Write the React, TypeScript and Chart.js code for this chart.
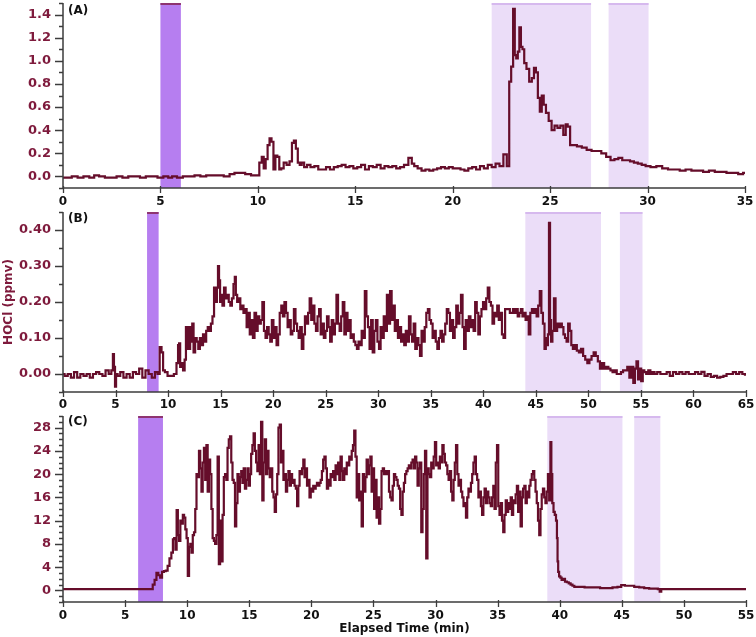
import React, { useEffect, useRef } from "react";
import { Chart, registerables } from "chart.js";

Chart.register(...registerables);

// ---------------- DATA ----------------
// Panel (A)
const timeA = [
  0, 0.3, 0.6, 0.9, 1.2, 1.5, 1.7, 2.0, 2.3, 2.6,
  2.9, 3.2, 3.5, 3.8, 4.1, 4.4, 4.7, 5.0, 5.3, 5.5,
  5.7, 6.0, 6.3, 6.6, 6.9, 7.2, 7.5, 7.8, 8.1, 8.4,
  8.7, 8.9, 9.2, 9.5, 9.8, 10.0, 10.15, 10.25, 10.35, 10.45,
  10.55, 10.65, 10.75, 10.85, 10.95, 11.05, 11.15, 11.25, 11.4, 11.55,
  11.7, 11.8, 11.9, 12.0, 12.1, 12.2, 12.3, 12.45, 12.6, 12.8,
  13.0, 13.2, 13.4, 13.6, 13.8, 14.0, 14.2, 14.4, 14.6, 14.8,
  15.0, 15.2, 15.4, 15.6, 15.8, 16.0, 16.2, 16.4, 16.6, 16.8,
  17.0, 17.2, 17.4, 17.6, 17.85, 17.95, 18.1, 18.3, 18.5, 18.7,
  18.9, 19.1, 19.3, 19.5, 19.7, 19.9, 20.1, 20.3, 20.5, 20.7,
  20.9, 21.1, 21.3, 21.5, 21.7, 21.9, 22.1, 22.3, 22.5, 22.7,
  22.85, 22.95, 23.05, 23.15, 23.22, 23.3, 23.38, 23.46, 23.54, 23.62,
  23.72, 23.85, 24.0, 24.12, 24.22, 24.32, 24.42, 24.52, 24.62, 24.72,
  24.85, 25.0, 25.15, 25.3, 25.45, 25.6, 25.75, 25.85, 25.95, 26.1,
  26.25, 26.5, 26.75, 27.0, 27.25, 27.5, 27.75, 28.0, 28.2, 28.4,
  28.6, 28.8, 29.0, 29.2, 29.4, 29.6, 29.8, 30.0, 30.3, 30.6,
  30.9, 31.2, 31.5, 31.8, 32.1, 32.4, 32.7, 33.0, 33.3, 33.6,
  33.9, 34.2, 34.5, 34.8, 35.0,
];
const hoclA = [
  -0.01, -0.01, 0.0, -0.01, 0.0, -0.01, 0.01, 0.0, -0.01, -0.01,
  0.0, -0.01, 0.0, 0.0, -0.01, 0.0, 0.0, -0.01, 0.0, -0.01,
  0.0, -0.01, 0.0, 0.0, 0.01, 0.0, 0.01, 0.01, 0.01, 0.0,
  0.02, 0.03, 0.03, 0.02, 0.01, 0.01, 0.12, 0.17, 0.07, 0.15,
  0.27, 0.33, 0.30, 0.06, 0.18, 0.17, 0.06, 0.07, 0.12, 0.10,
  0.13, 0.29, 0.31, 0.24, 0.12, 0.10, 0.12, 0.08, 0.10, 0.08,
  0.09, 0.06, 0.06, 0.08, 0.06, 0.08, 0.09, 0.10, 0.08, 0.09,
  0.07, 0.08, 0.10, 0.06, 0.09, 0.08, 0.10, 0.07, 0.09, 0.08,
  0.09, 0.07, 0.08, 0.10, 0.16, 0.11, 0.09, 0.07, 0.05, 0.06,
  0.05, 0.06, 0.07, 0.08, 0.07, 0.08, 0.07, 0.07, 0.06, 0.05,
  0.07, 0.08, 0.06, 0.09, 0.07, 0.10, 0.08, 0.11, 0.09, 0.19,
  0.09, 0.82, 0.95, 1.45, 1.05, 1.02, 1.08, 1.29, 1.12, 1.10,
  0.98, 0.93, 0.82, 0.85, 0.94, 0.90, 0.68, 0.56, 0.70, 0.62,
  0.55, 0.48, 0.40, 0.44, 0.42, 0.44, 0.36, 0.45, 0.43, 0.27,
  0.27, 0.26, 0.25, 0.23, 0.22, 0.22, 0.20, 0.17, 0.14, 0.15,
  0.16, 0.14, 0.14, 0.13, 0.12, 0.11, 0.10, 0.09, 0.08, 0.09,
  0.07, 0.06, 0.06, 0.05, 0.06, 0.05, 0.05, 0.04, 0.05, 0.04,
  0.04, 0.03, 0.03, 0.02, 0.03,
];

// Panel (B)
const timeB = [
  0, 0.3, 0.6, 0.9, 1.2, 1.5, 1.8, 2.1, 2.4, 2.7, 3.0, 3.3, 3.6, 3.9, 4.2, 4.5,
  4.7, 4.8, 4.9, 5.0, 5.1, 5.3,
  5.6, 5.9, 6.2, 6.5, 6.8, 7.1, 7.4, 7.7, 8.0, 8.3, 8.6, 8.9,
  9.1, 9.3, 9.45, 9.6, 9.8, 10.1, 10.4, 10.7,
  10.9, 11.0, 11.1, 11.2, 11.35, 11.5, 11.65, 11.75, 11.85, 11.95,
  12.05, 12.15, 12.25, 12.35, 12.5, 12.65, 12.8, 12.95, 13.1, 13.25,
  13.4, 13.55, 13.7, 13.85, 14.0, 14.15, 14.3, 14.45, 14.6, 14.7,
  14.8, 14.9, 15.0, 15.1, 15.25, 15.4, 15.55, 15.7, 15.85, 16.0,
  16.15, 16.3, 16.4, 16.5, 16.65, 16.8, 16.95, 17.1, 17.25, 17.4,
  17.55, 17.7, 17.85, 18.0, 18.15, 18.3, 18.45, 18.6, 18.75, 18.9,
  19.05, 19.2, 19.35, 19.5, 19.65, 19.8, 19.95, 20.1, 20.25, 20.4,
  20.55, 20.7, 20.85, 21.0, 21.15, 21.3, 21.45, 21.6, 21.75, 21.9,
  22.05, 22.2, 22.35, 22.5, 22.65, 22.8, 22.95, 23.1, 23.25, 23.4,
  23.55, 23.7, 23.85, 24.0, 24.15, 24.3, 24.45, 24.6, 24.75, 24.9,
  25.05, 25.2, 25.35, 25.5, 25.65, 25.8, 25.95, 26.1, 26.25, 26.4,
  26.55, 26.7, 26.85, 27.0, 27.15, 27.3, 27.45, 27.6, 27.75, 27.9,
  28.05, 28.2, 28.35, 28.5, 28.65, 28.8, 28.95, 29.1, 29.25, 29.4,
  29.55, 29.7, 29.85, 30.0, 30.15, 30.3, 30.45, 30.6, 30.75, 30.9,
  31.05, 31.2, 31.35, 31.5, 31.65, 31.8, 31.95, 32.1, 32.25, 32.4,
  32.55, 32.7, 32.85, 33.0, 33.15, 33.3, 33.45, 33.6, 33.75, 33.9,
  34.05, 34.2, 34.35, 34.5, 34.65, 34.8, 34.95, 35.1, 35.25, 35.4,
  35.55, 35.7, 35.85, 36.0, 36.15, 36.3, 36.45, 36.6, 36.75, 36.9,
  37.05, 37.2, 37.35, 37.5, 37.65, 37.8, 37.95, 38.1, 38.25, 38.4,
  38.55, 38.7, 38.85, 39.0, 39.15, 39.3, 39.45, 39.6, 39.75, 39.9,
  40.05, 40.2, 40.35, 40.5, 40.65, 40.8, 40.95, 41.1, 41.25, 41.4,
  41.55, 41.7, 41.85, 42.0, 42.15, 42.3, 42.45, 42.6, 42.75, 42.9,
  43.05, 43.2, 43.35, 43.5, 43.65, 43.8, 43.95, 44.1, 44.25, 44.4,
  44.55, 44.7, 44.85, 45.0, 45.15, 45.3, 45.45, 45.6, 45.75, 45.9,
  46.0, 46.1, 46.2, 46.3, 46.4, 46.5, 46.65, 46.8, 46.95, 47.1,
  47.25, 47.4, 47.55, 47.7, 47.85, 48.0, 48.15, 48.3, 48.45, 48.6,
  48.8, 49.0, 49.2, 49.4, 49.6, 49.8, 50.0, 50.2, 50.4, 50.6,
  50.8, 51.0, 51.2, 51.4, 51.6, 51.8, 52.0, 52.2, 52.4, 52.6,
  52.8, 53.0, 53.2, 53.4, 53.6, 53.8, 54.0, 54.2, 54.35, 54.5,
  54.65, 54.8, 54.95, 55.1, 55.25, 55.4, 55.6, 55.8, 56.0, 56.2,
  56.4, 56.7, 57.0, 57.3, 57.6, 57.9, 58.2, 58.5, 58.8, 59.1,
  59.4, 59.7, 60.0, 60.3, 60.6, 60.9, 61.2, 61.5, 61.8, 62.1,
  62.4, 62.7, 63.0, 63.3, 63.6, 63.9, 64.2, 64.5, 64.8, 65.0,
];
const hoclB = [
  0.0, -0.005, 0.0, -0.01, 0.005, -0.01, 0.0, -0.005, 0.0, -0.01, 0.0, 0.005, 0.0, -0.005, 0.01, 0.0,
  0.01, 0.055, 0.02, -0.035, 0.0, -0.005,
  0.005, -0.01, 0.0, -0.01, 0.005, 0.0, 0.015, -0.01, 0.01, 0.0, -0.01, 0.005,
  0.0, 0.075, 0.06, 0.01, 0.005, -0.005, -0.005, 0.0,
  0.03, 0.08, 0.085, 0.02, 0.03, 0.01, 0.04, 0.13, 0.07, 0.13,
  0.07, 0.13, 0.09, 0.14, 0.06, 0.10, 0.09, 0.07, 0.10, 0.08,
  0.11, 0.09, 0.12, 0.13, 0.12, 0.14, 0.16, 0.24, 0.20, 0.24,
  0.30, 0.26, 0.20, 0.22, 0.19, 0.24, 0.21, 0.22, 0.20, 0.19,
  0.21, 0.25, 0.27, 0.22, 0.20, 0.21, 0.18, 0.19, 0.17, 0.18,
  0.13, 0.17, 0.11, 0.15, 0.10, 0.17, 0.12, 0.16, 0.14, 0.15,
  0.20, 0.12, 0.10, 0.13, 0.11, 0.09, 0.15, 0.10, 0.13, 0.08,
  0.11, 0.17, 0.19, 0.16, 0.20, 0.17, 0.13, 0.15, 0.11, 0.12,
  0.18, 0.14, 0.12, 0.10, 0.13, 0.07, 0.11, 0.16, 0.14, 0.17,
  0.21, 0.15, 0.19, 0.14, 0.12, 0.16, 0.18, 0.11, 0.14, 0.10,
  0.12, 0.16, 0.13, 0.09, 0.15, 0.11, 0.14, 0.22, 0.14, 0.12,
  0.16, 0.20, 0.11, 0.17, 0.12, 0.15, 0.10, 0.11, 0.09, 0.08,
  0.07, 0.09, 0.08, 0.12, 0.10, 0.23, 0.16, 0.13, 0.07, 0.15,
  0.06, 0.12, 0.15, 0.09, 0.07, 0.13, 0.10, 0.16, 0.12, 0.22,
  0.14, 0.23, 0.15, 0.19, 0.12, 0.15, 0.10, 0.13, 0.09, 0.11,
  0.08, 0.12, 0.09, 0.16, 0.11, 0.09, 0.14, 0.07, 0.10, 0.08,
  0.05, 0.12, 0.09, 0.13, 0.17, 0.18, 0.15, 0.14, 0.10, 0.12,
  0.09, 0.07, 0.10, 0.12, 0.09, 0.11, 0.14, 0.18, 0.17, 0.12,
  0.15, 0.10, 0.13, 0.19, 0.14, 0.17, 0.22, 0.13, 0.07, 0.15,
  0.12, 0.16, 0.13, 0.15, 0.12, 0.20, 0.17, 0.11, 0.16, 0.18,
  0.20, 0.18, 0.21, 0.24, 0.20, 0.19, 0.14, 0.17, 0.16, 0.19,
  0.15, 0.17, 0.11, 0.10, 0.18, 0.18, 0.18, 0.17, 0.17, 0.18,
  0.17, 0.18, 0.16, 0.17, 0.18, 0.16, 0.17, 0.15, 0.16, 0.11,
  0.17, 0.18, 0.17, 0.18, 0.16, 0.19, 0.23, 0.17, 0.14, 0.07,
  0.10, 0.08, 0.11, 0.42, 0.15, 0.09, 0.12, 0.21, 0.12, 0.14,
  0.13, 0.14, 0.13, 0.11, 0.10, 0.09, 0.14, 0.12, 0.08, 0.07,
  0.08, 0.065, 0.06, 0.07, 0.05, 0.04, 0.03, 0.04, 0.05, 0.06,
  0.05, 0.035, 0.015, 0.03, 0.015, 0.02, 0.015, 0.01, 0.005, 0.01,
  0.0, 0.0, 0.005, 0.01, 0.01, 0.02, -0.01, 0.02, -0.025, 0.015,
  0.035, -0.015, 0.015, -0.02, 0.01, 0.005, 0.0, 0.01, 0.0, 0.005,
  0.0, 0.005, 0.0, 0.0, 0.005, -0.005, 0.005, 0.0, 0.005, 0.0,
  0.005, 0.0, 0.0, 0.005, 0.0, 0.006, -0.005, 0.0, -0.008, -0.005,
  -0.01, -0.008, -0.005, 0.0, 0.0, 0.005, 0.0, 0.005, 0.0, -0.002,
];

// Panel (C)
const timeC = [
  0, 1, 2, 3, 4, 5, 6, 7, 7.15,
  7.3, 7.45, 7.6, 7.75, 7.9, 8.05, 8.2, 8.35, 8.5, 8.65,
  8.8, 8.9, 9.0, 9.1, 9.2, 9.3, 9.4, 9.5, 9.6, 9.7,
  9.8, 9.9, 10.0, 10.1, 10.2, 10.3, 10.4, 10.5, 10.6, 10.7,
  10.8, 10.9, 11.0, 11.1, 11.2, 11.3, 11.4, 11.5, 11.6, 11.7,
  11.8, 11.9, 12.0, 12.1, 12.2, 12.3, 12.4, 12.5, 12.6, 12.7,
  12.8, 12.9, 13.0, 13.1, 13.2, 13.3, 13.4, 13.5, 13.6, 13.7,
  13.8, 13.9, 14.0, 14.1, 14.2, 14.3, 14.4, 14.5, 14.6, 14.7,
  14.8, 14.9, 15.0, 15.1, 15.2, 15.3, 15.4, 15.5, 15.6, 15.7,
  15.8, 15.9, 16.0, 16.1, 16.2, 16.3, 16.4, 16.5, 16.6, 16.7,
  16.8, 16.9, 17.0, 17.1, 17.2, 17.3, 17.4, 17.5, 17.6, 17.7,
  17.8, 17.9, 18.0, 18.1, 18.2, 18.3, 18.4, 18.5, 18.6, 18.7,
  18.8, 18.9, 19.0, 19.1, 19.2, 19.3, 19.4, 19.5, 19.6, 19.7,
  19.8, 19.9, 20.0, 20.1, 20.2, 20.3, 20.4, 20.5, 20.6, 20.7,
  20.8, 20.9, 21.0, 21.1, 21.2, 21.3, 21.4, 21.5, 21.6, 21.7,
  21.8, 21.9, 22.0, 22.1, 22.2, 22.3, 22.4, 22.5, 22.6, 22.7,
  22.8, 22.9, 23.0, 23.1, 23.2, 23.3, 23.4, 23.5, 23.6, 23.7,
  23.8, 23.9, 24.0, 24.1, 24.2, 24.3, 24.4, 24.5, 24.6, 24.7,
  24.8, 24.9, 25.0, 25.1, 25.2, 25.3, 25.4, 25.5, 25.6, 25.7,
  25.8, 25.9, 26.0, 26.1, 26.2, 26.3, 26.4, 26.5, 26.6, 26.7,
  26.8, 26.9, 27.0, 27.1, 27.2, 27.3, 27.4, 27.5, 27.6, 27.7,
  27.8, 27.9, 28.0, 28.1, 28.2, 28.3, 28.4, 28.5, 28.6, 28.7,
  28.8, 28.9, 29.0, 29.1, 29.2, 29.3, 29.4, 29.5, 29.6, 29.7,
  29.8, 29.9, 30.0, 30.1, 30.2, 30.3, 30.4, 30.5, 30.6, 30.7,
  30.8, 30.9, 31.0, 31.1, 31.2, 31.3, 31.4, 31.5, 31.6, 31.7,
  31.8, 31.9, 32.0, 32.1, 32.2, 32.3, 32.4, 32.5, 32.6, 32.7,
  32.8, 32.9, 33.0, 33.1, 33.2, 33.3, 33.4, 33.5, 33.6, 33.7,
  33.8, 33.9, 34.0, 34.1, 34.2, 34.3, 34.4, 34.5, 34.6, 34.7,
  34.8, 34.9, 35.0, 35.1, 35.2, 35.3, 35.4, 35.5, 35.6, 35.7,
  35.8, 35.9, 36.0, 36.1, 36.2, 36.3, 36.4, 36.5, 36.6, 36.7,
  36.8, 36.9, 37.0, 37.1, 37.2, 37.3, 37.4, 37.5, 37.6, 37.7,
  37.8, 37.9, 38.0, 38.1, 38.2, 38.3, 38.4, 38.5, 38.6, 38.7,
  38.8, 38.9, 39.0, 39.1, 39.2, 39.3, 39.35, 39.45, 39.55, 39.65,
  39.75, 39.8, 39.85, 39.9, 40.0, 40.1, 40.2, 40.35, 40.5, 40.65,
  40.8, 40.95, 41.1, 41.25, 41.5, 41.8, 42.2, 42.6, 43.0, 43.5,
  44.0, 44.5, 44.8, 45.1, 45.4, 45.8, 46.2, 46.6, 47.0, 47.4,
  47.8, 48.0, 48.1, 48.25, 48.5, 49, 50, 52, 55,
];
const hoclC = [
  0.2, 0.2, 0.2, 0.2, 0.2, 0.2, 0.2, 0.2, 0.2,
  1.0, 1.8, 3.0, 2.6, 2.2, 3.2, 3.3, 3.4, 4.2, 5.5,
  6.5, 8.8, 9.0, 7.0, 13.8, 9.5, 8.5, 12.0, 11.5, 13.0,
  12.5, 10.5, 9.0, 2.5, 7.5, 8.0, 6.5, 9.5, 10.0, 14.0,
  20.0, 19.5, 24.0, 21.0, 17.0, 22.0, 24.5, 19.0, 25.0, 17.0,
  22.5, 20.0, 14.0, 9.0, 8.5, 8.0, 9.5, 23.0, 4.5, 12.0,
  5.0, 13.0, 19.5, 20.0, 19.0, 24.5, 26.0, 26.5, 22.0, 19.0,
  18.5, 11.0, 15.0, 20.0, 17.0, 19.5, 20.5, 18.5, 21.0, 17.5,
  19.0, 21.0, 18.0, 20.0, 23.5, 25.0, 27.0, 24.0, 22.0, 20.5,
  25.0, 20.0, 29.0, 15.5, 22.0, 26.0, 20.0, 24.0, 21.0, 19.5,
  21.0, 17.0, 16.0, 13.5, 16.5, 20.0, 28.0, 28.5, 22.0, 24.0,
  19.0, 20.0, 17.0, 19.0, 20.5, 18.0, 20.0, 18.5, 19.0, 18.0,
  17.5, 14.5, 18.0, 20.5, 20.0, 21.0, 22.5, 19.5, 21.0, 18.0,
  19.0, 16.0, 17.5, 17.0, 18.0, 17.5, 18.0, 18.5, 18.0, 18.5,
  19.0, 20.5, 22.5, 23.0, 21.0, 17.5, 19.0, 18.0, 20.0, 19.5,
  20.5, 19.0, 21.5, 20.0, 22.0, 19.0, 23.0, 20.5, 19.0, 21.0,
  20.0, 22.0, 21.5, 23.0, 22.5, 24.0, 25.0, 27.5, 23.0, 16.0,
  20.0, 15.5, 17.0, 11.0, 20.0, 17.0, 19.5, 22.5, 20.0, 21.5,
  23.0, 17.0, 21.0, 14.0, 19.0, 12.5, 16.0, 11.5, 14.0, 20.5,
  21.0, 20.0, 20.5, 20.0, 20.5, 17.0, 16.0, 15.5, 18.0, 20.0,
  19.5, 19.0, 18.0, 17.5, 14.0, 13.0, 17.0, 18.5, 20.0, 20.5,
  21.0, 21.5, 21.0, 22.0, 22.5, 21.0, 23.0, 22.0, 18.0, 21.0,
  22.0, 10.0, 14.0, 20.0, 24.0, 5.5, 21.0, 20.0, 19.5, 22.0,
  21.0, 23.0, 25.5, 21.5, 22.0, 21.0, 23.0, 22.0, 25.0, 23.5,
  22.0, 21.5, 20.0, 19.0, 20.5, 17.0, 15.5, 19.0, 22.0, 25.0,
  20.0, 18.0, 19.0, 17.0, 16.0, 14.5, 15.0, 12.5, 16.0, 17.5,
  17.0, 18.5, 20.0, 22.0, 23.0, 20.0, 19.0, 16.0, 17.0, 14.5,
  13.0, 16.0, 17.5, 15.0, 17.0, 16.0, 15.0, 14.5, 16.0, 18.0,
  14.0, 22.0, 25.0, 14.5, 13.0, 15.0, 12.0, 10.0, 13.0, 15.5,
  13.5, 15.0, 14.0, 16.0, 13.0, 15.5, 15.0, 16.5, 18.0, 13.5,
  17.0, 11.0, 16.0, 17.5, 18.0, 15.0, 17.0, 16.0, 18.0, 19.0,
  20.0, 20.5, 19.0, 17.0, 15.0, 12.0, 9.5, 14.0, 16.5, 17.5,
  16.0, 15.0, 17.0, 20.0, 15.5, 25.5, 20.0, 15.0, 13.5, 13.0,
  12.0, 9.0, 5.0, 3.2, 2.4, 2.2, 1.8, 2.0, 1.5, 1.4,
  1.2, 1.0, 0.8, 0.6, 0.6, 0.6, 0.5, 0.5, 0.5, 0.4,
  0.4, 0.5, 0.6, 0.9, 0.8, 0.8, 0.6, 0.5, 0.4, 0.3,
  0.3, 0.2, -0.2, 0.2, 0.2, 0.2, 0.2, 0.2, 0.2,
];

// Shaded periods (minutes): dark = UV-on, light = other periods
const bandsA = [
  { from: 5.0, to: 6.05, dark: true },
  { from: 22.0, to: 27.1, dark: false },
  { from: 28.0, to: 30.05, dark: false },
];
const bandsB = [
  { from: 8.0, to: 9.1, dark: true },
  { from: 44.0, to: 51.2, dark: false },
  { from: 53.0, to: 55.15, dark: false },
];
const bandsC = [
  { from: 6.05, to: 8.05, dark: true },
  { from: 39.0, to: 45.05, dark: false },
  { from: 46.0, to: 48.1, dark: false },
];

// ---------------- STYLE ----------------
const LINE = "#650D2A";
const YLABEL = "#7E1A3C";
const XLABEL = "#111111";
const AXIS = "#3c3c3c";
const DARK = "#B67EF0";
const DARK_EDGE = "#8E3470";
const LIGHT = "#EBDDF8";
const LIGHT_EDGE = "#D6B9EE";
const FONT = "'DejaVu Sans', Verdana, sans-serif";

const decor = {
  id: "decor",
  beforeDatasetsDraw(chart: any, _a: any, opts: any) {
    const { ctx, chartArea: ca, scales } = chart;
    const x = scales.x;
    ctx.save();
    for (const b of opts.bands || []) {
      const x0 = x.getPixelForValue(b.from);
      const x1 = x.getPixelForValue(b.to);
      ctx.fillStyle = b.dark ? DARK : LIGHT;
      ctx.fillRect(x0, ca.top, x1 - x0, ca.bottom - ca.top);
      ctx.fillStyle = b.dark ? DARK_EDGE : LIGHT_EDGE;
      ctx.fillRect(x0, ca.top, x1 - x0, 2);
    }
    ctx.restore();
  },
  afterDraw(chart: any, _a: any, opts: any) {
    const { ctx, chartArea: ca, scales } = chart;
    const x = scales.x;
    const y = scales.y;
    ctx.save();
    ctx.strokeStyle = AXIS;
    ctx.lineWidth = 1.5;
    ctx.beginPath();
    ctx.moveTo(ca.left, ca.top);
    ctx.lineTo(ca.left, ca.bottom);
    ctx.lineTo(ca.right, ca.bottom);
    ctx.stroke();
    ctx.lineWidth = 1.3;
    ctx.beginPath();
    for (const t of y.ticks) {
      const py = Math.round(y.getPixelForValue(t.value)) + 0.5;
      const major = t.label !== "" && t.label !== undefined;
      ctx.moveTo(ca.left - (major ? 8 : 4), py);
      ctx.lineTo(ca.left, py);
    }
    for (const t of x.ticks) {
      const px = Math.round(x.getPixelForValue(t.value)) + 0.5;
      ctx.moveTo(px, ca.bottom - 2);
      ctx.lineTo(px, ca.bottom + 5);
    }
    ctx.stroke();
    ctx.fillStyle = "#111";
    ctx.font = `bold 12px ${FONT}`;
    ctx.textBaseline = "middle";
    ctx.textAlign = "left";
    ctx.fillText(opts.label, ca.left + 5, ca.top + opts.labelDy);
    ctx.restore();
  },
};

interface PanelCfg {
  label: string;
  labelDy: number;
  times: number[];
  values: number[];
  bands: { from: number; to: number; dark: boolean }[];
  xMax: number;
  yMin: number;
  yMax: number;
  yStep: number;
  majorEvery: number;
  decimals: number;
  top: number;
  height: number;
  padTop: number;
  padRight: number;
  xAxisHeight: number;
  xTickPad: number;
  yTitle: boolean;
  xTitle: boolean;
}

const panels: PanelCfg[] = [
  {
    label: "(A)", labelDy: 8, times: timeA, values: hoclA, bands: bandsA,
    xMax: 35, yMin: -0.1, yMax: 1.5, yStep: 0.1, majorEvery: 2, decimals: 1,
    top: 0, height: 212, padTop: 3, padRight: 11, xAxisHeight: 24, xTickPad: 7,
    yTitle: false, xTitle: false,
  },
  {
    label: "(B)", labelDy: 7, times: timeB, values: hoclB, bands: bandsB,
    xMax: 65, yMin: -0.05, yMax: 0.45, yStep: 0.05, majorEvery: 2, decimals: 2,
    top: 210, height: 202, padTop: 2, padRight: 10, xAxisHeight: 20, xTickPad: 6,
    yTitle: true, xTitle: false,
  },
  {
    label: "(C)", labelDy: 6, times: timeC, values: hoclC, bands: bandsC,
    xMax: 55, yMin: -2, yMax: 30, yStep: 1, majorEvery: 4, decimals: 0,
    top: 412, height: 225, padTop: 4, padRight: 10, xAxisHeight: 35, xTickPad: 7,
    yTitle: false, xTitle: true,
  },
];

function Panel({ cfg }: { cfg: PanelCfg }) {
  const ref = useRef<HTMLCanvasElement>(null);
  useEffect(() => {
    const n = Math.min(cfg.times.length, cfg.values.length);
    const data = [];
    for (let i = 0; i < n; i++) data.push({ x: cfg.times[i], y: cfg.values[i] });
    const font = { family: FONT, size: 12, weight: "bold" as const };
    const yFont = { family: FONT, size: 13, weight: "bold" as const };
    const chart = new Chart(ref.current as HTMLCanvasElement, {
      type: "line",
      data: {
        datasets: [
          {
            data,
            borderColor: LINE,
            borderWidth: 2.2,
            pointRadius: 0,
            fill: false,
            tension: 0,
            stepped: "middle",
          } as any,
        ],
      },
      options: {
        animation: false,
        responsive: false,
        devicePixelRatio: 1,
        events: [],
        layout: { padding: { top: cfg.padTop, right: cfg.padRight, left: 0, bottom: 0 } },
        plugins: {
          legend: { display: false },
          tooltip: { enabled: false },
          decor: { bands: cfg.bands, label: cfg.label, labelDy: cfg.labelDy },
        } as any,
        scales: {
          x: {
            type: "linear",
            min: 0,
            max: cfg.xMax,
            grid: { display: false, drawTicks: false },
            border: { display: false },
            ticks: {
              stepSize: 5,
              autoSkip: false,
              maxRotation: 0,
              padding: cfg.xTickPad,
              color: XLABEL,
              font,
              callback: (v: any) => String(v),
            },
            title: {
              display: cfg.xTitle,
              text: "Elapsed Time (min)",
              color: XLABEL,
              font,
              padding: { top: 0, bottom: 1 },
            },
            afterFit: (s: any) => {
              s.height = cfg.xAxisHeight;
              s.paddingLeft = 0;
              s.paddingRight = 0;
            },
          },
          y: {
            type: "linear",
            min: cfg.yMin,
            max: cfg.yMax,
            grid: { display: false, drawTicks: false },
            border: { display: false },
            ticks: {
              stepSize: cfg.yStep,
              autoSkip: false,
              padding: 12,
              color: YLABEL,
              font: yFont,
              callback: (v: any) => {
                const k = Math.round(Number(v) / cfg.yStep);
                if (k % cfg.majorEvery !== 0 || Number(v) < -1e-9) return "";
                return Number(v).toFixed(cfg.decimals);
              },
            },
            title: {
              display: cfg.yTitle,
              text: "HOCl (ppmv)",
              color: YLABEL,
              font,
              padding: { top: 2, bottom: 0 },
            },
            afterFit: (s: any) => {
              s.width = 63;
              s.paddingTop = 0;
              s.paddingBottom = 0;
            },
          },
        } as any,
      },
      plugins: [decor as any],
    });
    return () => chart.destroy();
  }, [cfg]);
  return (
    <canvas
      ref={ref}
      width={756}
      height={cfg.height}
      style={{ position: "absolute", left: 0, top: cfg.top, width: 756, height: cfg.height }}
    />
  );
}

export default function App() {
  return (
    <div style={{ position: "absolute", left: 0, top: 0, width: 756, height: 637, background: "#fff" }}>
      {panels.map((p) => (
        <Panel key={p.label} cfg={p} />
      ))}
    </div>
  );
}
